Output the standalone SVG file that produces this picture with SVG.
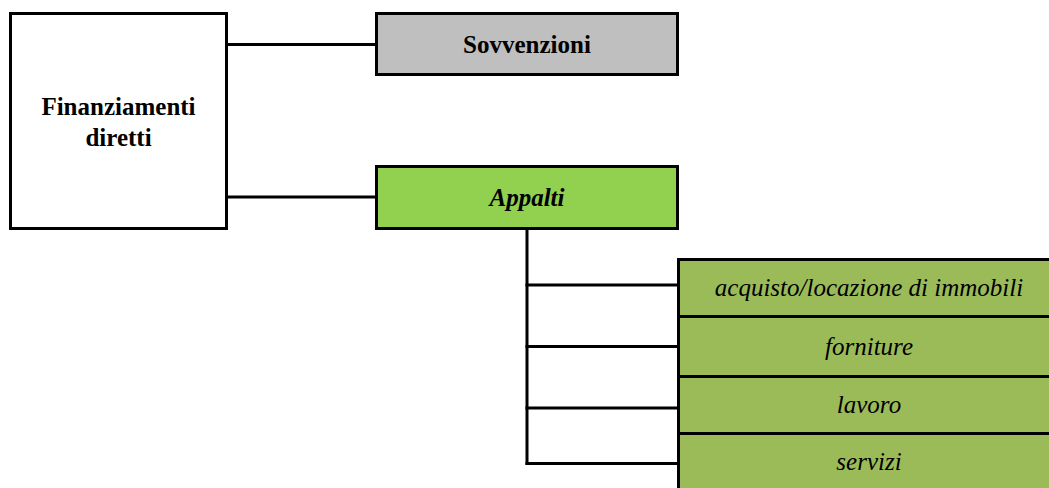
<svg xmlns="http://www.w3.org/2000/svg" width="1049" height="488" viewBox="0 0 1049 488">
<style>
.box{stroke:#000;stroke-width:3}
.conn{stroke:#000;stroke-width:3;fill:none}
text{font-family:'Liberation Serif','Times New Roman',Times,serif;font-size:25px;fill:#000;text-anchor:middle}
.b{font-weight:bold}
.i{font-style:italic}
</style>
<rect width="1049" height="488" fill="#fff"/>
<g id="connectors">
<line class="conn" x1="227" y1="44.5" x2="376" y2="44.5"/>
<line class="conn" x1="227" y1="197" x2="376" y2="197"/>
<line class="conn" x1="527" y1="229" x2="527" y2="465"/>
<line class="conn" x1="525.5" y1="285" x2="678" y2="285"/>
<line class="conn" x1="525.5" y1="346.5" x2="678" y2="346.5"/>
<line class="conn" x1="525.5" y1="408" x2="678" y2="408"/>
<line class="conn" x1="525.5" y1="463.5" x2="678" y2="463.5"/>
</g>
<g id="finanziamenti">
<rect class="box" x="10.5" y="13.5" width="216" height="215" fill="#fff"/>
<text class="b" x="118.5" y="115">Finanziamenti</text>
<text class="b" x="118.5" y="146">diretti</text>
</g>
<g id="sovvenzioni">
<rect class="box" x="376.5" y="13.5" width="301" height="61" fill="#BFBFBF"/>
<text class="b" x="527" y="53">Sovvenzioni</text>
</g>
<g id="appalti">
<rect class="box" x="376.5" y="166.5" width="301" height="62" fill="#92D050"/>
<text class="b i" x="527" y="206">Appalti</text>
</g>
<g id="acquisto">
<rect class="box" x="678.5" y="259.5" width="384" height="57" fill="#9BBB59"/>
<text class="i" x="869" y="296">acquisto/locazione di immobili</text>
</g>
<g id="forniture">
<rect class="box" x="678.5" y="316.5" width="384" height="60" fill="#9BBB59"/>
<text class="i" x="869" y="355">forniture</text>
</g>
<g id="lavoro">
<rect class="box" x="678.5" y="376.5" width="384" height="57" fill="#9BBB59"/>
<text class="i" x="869" y="413">lavoro</text>
</g>
<g id="servizi">
<rect class="box" x="678.5" y="433.5" width="384" height="60" fill="#9BBB59"/>
<text class="i" x="869" y="470">servizi</text>
</g>
</svg>
